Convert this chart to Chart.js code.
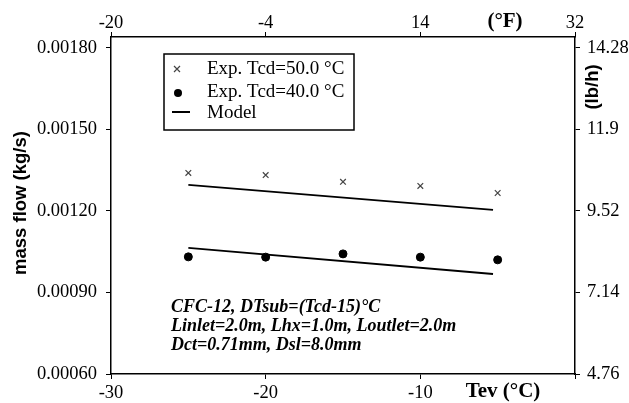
<!DOCTYPE html>
<html>
<head>
<meta charset="utf-8">
<script src="https://cdn.jsdelivr.net/npm/chart.js@4.4.0/dist/chart.umd.min.js"></script>
<style>
  html, body { margin: 0; padding: 0; background: #fff; }
  #wrap { width: 629px; height: 403px; position: relative; }
</style>
</head>
<body>
<div id="wrap"><canvas id="chart"></canvas></div>
<script>
// evaporating temperature (°C) of the measured points
const tev = [-25, -20, -15, -10, -5];
const exp50 = [0.00134, 0.001332, 0.001307, 0.001292, 0.001266];
const exp40 = [0.001031, 0.00103, 0.001042, 0.00103, 0.00102];

const modelTev = [-25, -5.3];
const model50 = [0.001296, 0.001204];
const model40 = [0.001064, 0.000968];

const yTicks = [0.0006, 0.0009, 0.0012, 0.0015, 0.0018];
const yTickLabels = ['0.00060', '0.00090', '0.00120', '0.00150', '0.00180'];
const rightTickLabels = ['4.76', '7.14', '9.52', '11.9', '14.28'];
const xTicks = [-30, -20, -10, 0];
const xTickLabels = ['-30', '-20', '-10', '0'];
const topTickLabels = ['-20', '-4', '14', '32'];

const serif = "'Liberation Serif', 'Times New Roman', serif";
const sans = "'Liberation Sans', Arial, sans-serif";

function pts(xs, ys) {
  return xs.map((x, i) => ({ x: x, y: ys[i] }));
}

function fixTicks(values) {
  return scale => { scale.ticks = values.map(v => ({ value: v })); };
}

const overlay = {
  id: 'overlay',
  afterDraw(chart) {
    const ctx = chart.ctx;
    ctx.save();
    ctx.fillStyle = '#000';
    ctx.strokeStyle = '#000';

    // legend box
    ctx.lineWidth = 1.5;
    ctx.strokeRect(164, 54, 190, 76);
    // cross symbol
    ctx.lineWidth = 1.2;
    ctx.strokeStyle = '#444';
    ctx.beginPath();
    ctx.moveTo(174, 66); ctx.lineTo(180, 72);
    ctx.moveTo(180, 66); ctx.lineTo(174, 72);
    ctx.stroke();
    ctx.strokeStyle = '#000';
    // dot symbol
    ctx.beginPath();
    ctx.arc(178, 93, 4, 0, Math.PI * 2);
    ctx.fill();
    // line symbol
    ctx.lineWidth = 2;
    ctx.beginPath();
    ctx.moveTo(172, 112); ctx.lineTo(190, 112);
    ctx.stroke();

    ctx.font = '19px ' + serif;
    ctx.textBaseline = 'middle';
    ctx.textAlign = 'left';
    ctx.fillText('Exp. Tcd=50.0 °C', 207, 69);
    ctx.fillText('Exp. Tcd=40.0 °C', 207, 92);
    ctx.fillText('Model', 207, 113);

    // annotation
    ctx.font = 'italic bold 18px ' + serif;
    ctx.fillText('CFC-12, DTsub=(Tcd-15)°C', 171, 307);
    ctx.fillText('Linlet=2.0m, Lhx=1.0m, Loutlet=2.0m', 171, 326);
    ctx.fillText('Dct=0.71mm, Dsl=8.0mm', 171, 345);

    // axis titles
    ctx.font = 'bold 21px ' + serif;
    ctx.textAlign = 'center';
    ctx.fillText('Tev (°C)', 503, 392);
    ctx.fillText('(°F)', 505, 22);

    ctx.font = 'bold 18.5px ' + sans;
    ctx.save();
    ctx.translate(21, 203);
    ctx.rotate(-Math.PI / 2);
    ctx.fillText('mass flow (kg/s)', 0, 0);
    ctx.restore();
    ctx.save();
    ctx.translate(593, 87);
    ctx.rotate(-Math.PI / 2);
    ctx.fillText('(lb/h)', 0, 0);
    ctx.restore();

    ctx.restore();
  }
};

const tickFont = { family: serif, size: 18.5 };

new Chart(document.getElementById('chart'), {
  type: 'scatter',
  data: {
    datasets: [
      {
        label: 'Exp. Tcd=50.0 °C',
        data: pts(tev, exp50),
        pointStyle: 'crossRot',
        pointRadius: 4,
        borderColor: '#444',
        borderWidth: 1.2,
        backgroundColor: '#444',
      },
      {
        label: 'Exp. Tcd=40.0 °C',
        data: pts(tev, exp40),
        pointStyle: 'circle',
        pointRadius: 4,
        borderColor: '#000',
        backgroundColor: '#000',
      },
      {
        label: 'Model',
        type: 'line',
        data: pts(modelTev, model50),
        borderColor: '#000',
        borderWidth: 1.8,
        pointRadius: 0,
        fill: false,
      },
      {
        label: 'Model 40',
        type: 'line',
        data: pts(modelTev, model40),
        borderColor: '#000',
        borderWidth: 1.8,
        pointRadius: 0,
        fill: false,
      }
    ]
  },
  options: {
    responsive: true,
    maintainAspectRatio: false,
    animation: false,
    layout: { padding: 0 },
    plugins: {
      legend: { display: false },
      tooltip: { enabled: false }
    },
    scales: {
      x: {
        type: 'linear',
        position: 'bottom',
        min: -30, max: 0,
        afterBuildTicks: fixTicks(xTicks),
        afterFit: s => { s.height = 29; },
        grid: { drawOnChartArea: false, tickLength: 5, color: '#000' },
        border: { color: '#000', width: 1.5 },
        ticks: {
          color: '#000', font: tickFont, padding: 3,
          maxRotation: 0,
          callback: (v, i) => (i === 3 ? '' : xTickLabels[i])
        }
      },
      xTop: {
        type: 'linear',
        position: 'top',
        min: -30, max: 0,
        afterBuildTicks: fixTicks(xTicks),
        afterFit: s => { s.height = 37; },
        grid: { drawOnChartArea: false, tickLength: 5, color: '#000' },
        border: { color: '#000', width: 1.5 },
        ticks: {
          color: '#000', font: tickFont, padding: -2,
          maxRotation: 0,
          callback: (v, i) => topTickLabels[i]
        }
      },
      y: {
        type: 'linear',
        position: 'left',
        min: 0.0006, max: 0.00184,
        afterBuildTicks: fixTicks(yTicks),
        afterFit: s => { s.width = 111; },
        grid: { drawOnChartArea: false, tickLength: 5, color: '#000' },
        border: { color: '#000', width: 1.5 },
        ticks: {
          color: '#000', font: tickFont, padding: 9,
          callback: (v, i) => yTickLabels[i]
        }
      },
      yRight: {
        type: 'linear',
        position: 'right',
        min: 0.0006, max: 0.00184,
        afterBuildTicks: fixTicks(yTicks),
        afterFit: s => { s.width = 54; },
        grid: { drawOnChartArea: false, tickLength: 5, color: '#000' },
        border: { color: '#000', width: 1.5 },
        ticks: {
          color: '#000', font: tickFont, padding: 7,
          callback: (v, i) => rightTickLabels[i]
        }
      }
    }
  },
  plugins: [overlay]
});
</script>
</body>
</html>
